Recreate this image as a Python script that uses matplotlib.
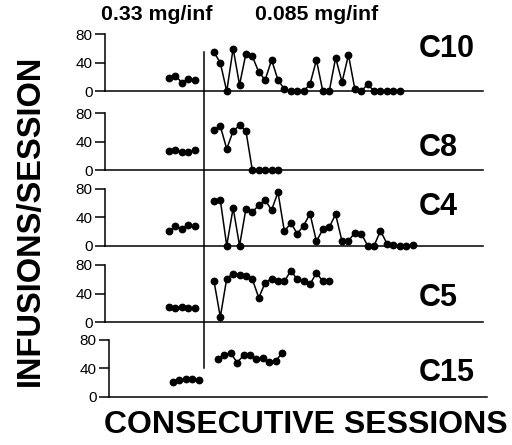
import numpy as np
import matplotlib.pyplot as plt
from matplotlib.lines import Line2D

plt.rcParams['font.family'] = ['Liberation Sans', 'DejaVu Sans']

# sessions: 5 baseline sessions at 0.33 mg/inf, then the 0.085 mg/inf sessions
base_x = np.arange(10, 15)
post_start = 17
switch_x = 15.5

names = ['C10', 'C8', 'C4', 'C5', 'C15']

c10_base = [19, 22, 12, 17, 16]
c10_post = [55, 40, 0, 60, 9, 53, 49, 27, 16, 44, 16, 3, 0, 0, 0, 10, 44, 0, 0, 47,
            13, 51, 3, 0, 10, 0, 0, 0, 0, 0]
c8_base = [27, 28, 26, 25, 28]
c8_post = [56, 62, 30, 55, 63, 55, 0, 0, 0, 0, 0]
c4_base = [20, 27, 24, 29, 27]
c4_post = [63, 64, 0, 53, 0, 52, 47, 57, 64, 50, 75, 20, 32, 17, 28, 45, 6, 23, 26, 44,
           6, 7, 18, 17, 0, 0, 21, 3, 1, 0, 0, 1]
c5_base = [21, 20, 21, 20, 20]
c5_post = [58, 7, 61, 68, 66, 65, 60, 34, 55, 61, 57, 57, 72, 60, 57, 53, 69, 57, 58]
c15_base = [20, 24, 25, 25, 24]
c15_post = [53, 59, 61, 48, 58, 59, 53, 54, 49, 50, 61]

bases = [c10_base, c8_base, c4_base, c5_base, c15_base]
posts = [c10_post, c8_post, c4_post, c5_post, c15_post]
label_y = [59, 32, 55, 34, 33]

W, H = 512, 445
fig = plt.figure(figsize=(W / 100, H / 100), dpi=100)

# panel zero lines (pixels from top) and left edges
zero_px = [91.3, 170.3, 245.7, 322, 396.7]
left_px = [105, 105, 105, 105, 109]
panel_h = 57
axes = []
for i in range(5):
    ax = fig.add_axes([left_px[i] / W, (H - zero_px[i]) / H, 378 / W, panel_h / H])
    ax.plot(base_x, bases[i], '-o', color='black', lw=1.1, ms=4.6, clip_on=False)
    px = np.arange(post_start, post_start + len(posts[i]))
    ax.plot(px, posts[i], '-o', color='black', lw=1.1, ms=4.6, clip_on=False)
    ax.set_xlim(0, 59)
    ax.set_ylim(0, 80)
    ax.set_yticks([0, 40, 80])
    ax.set_xticks([])
    for s in ['top', 'right']:
        ax.spines[s].set_visible(False)
    for s in ['left', 'bottom']:
        ax.spines[s].set_linewidth(1.1)
    ax.tick_params(axis='y', direction='out', length=7, width=1.1, labelsize=11, pad=2)
    ax.patch.set_alpha(0)
    xd = ax.transData.inverted().transform((419, 0))[0]
    ax.text(xd, label_y[i], names[i], fontsize=22, fontweight='bold',
            va='center', ha='left')
    axes.append(ax)

# vertical line marking the dose switch
x0 = axes[0].transData.transform((switch_x, 0))[0]
y_top = axes[0].transData.transform((0, 55))[1]
y_bot = axes[4].transData.transform((0, 40))[1]
fig.add_artist(Line2D([x0 / W, x0 / W], [y_top / H, y_bot / H],
                      transform=fig.transFigure, color='black', lw=1.1))

fig.text(157 / W, 1 - 15 / H, '0.33 mg/inf', ha='center', va='center',
         fontsize=15.3, fontweight='bold')
fig.text(317 / W, 1 - 15 / H, '0.085 mg/inf', ha='center', va='center',
         fontsize=15.3, fontweight='bold')
fig.text(30 / W, 1 - 220 / H, 'INFUSIONS/SESSION', rotation=90, ha='center', va='center',
         fontsize=23.5, fontweight='bold')
fig.text(306 / W, 1 - 425 / H, 'CONSECUTIVE SESSIONS', ha='center', va='center',
         fontsize=23, fontweight='bold')

fig.savefig('out.png', dpi=100)
